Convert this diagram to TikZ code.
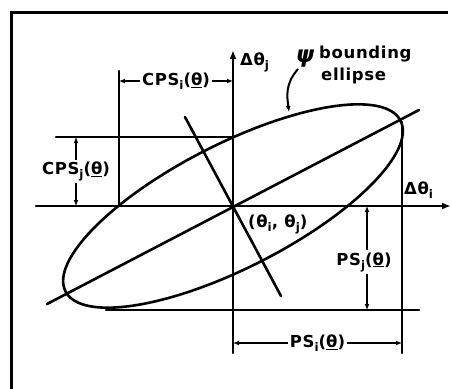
\documentclass[tikz,border=0pt]{standalone}
\usepackage{fontspec}
\setmainfont[LetterSpace=4]{DejaVu Sans}
\usetikzlibrary{arrows.meta}
\newcommand\lo[1]{\raisebox{-0.45ex}{\scalebox{0.72}{#1}}}
\newcommand\uth{\underline{θ}}
\begin{document}
\begin{tikzpicture}[x=1pt,y=-1pt,
  thick line/.style={line width=2.6pt,line cap=round},
  frameline/.style={line width=3pt},
  dimline/.style={line width=2pt,{Latex[length=6pt,width=5pt]}-{Latex[length=6pt,width=5pt]}},
  lbl/.style={font=\fontsize{16.5}{18}\selectfont\bfseries,inner sep=1pt},
  dimlbl/.style={lbl,fill=white,inner sep=2pt}]
\useasboundingbox (0,0) rectangle (451,389);
% frame
\draw[frameline] (11,389) -- (11,12) -- (448,12);
% key points
\coordinate (O) at (233,206);
\coordinate (xl) at (36,206);
\coordinate (xr) at (451,206);
\coordinate (yb) at (233,353);
\coordinate (yt) at (233,50);
% axes
\draw[thick line,-{Latex[length=9pt,width=7pt]}] (xl) -- (xr);
\draw[thick line,-{Latex[length=9pt,width=7pt]}] (yb) -- (yt);
% ellipse
\draw[thick line,rotate around={27:(O)}] (O) ellipse [x radius=188,y radius=62];
% major and minor axes
\coordinate (ma1) at (47,304);
\coordinate (ma2) at (419,110);
\coordinate (mi1) at (185,117);
\coordinate (mi2) at (281,296);
\draw[thick line] (ma1) -- (ma2);
\draw[thick line] (mi1) -- (mi2);
% extension lines
\coordinate (t1) at (56,137);
\coordinate (t2) at (233,137);
\coordinate (v1) at (119,71);
\coordinate (v2) at (119,206);
\coordinate (r1) at (402,122);
\coordinate (r2) at (402,353);
\coordinate (b1) at (106,310);
\coordinate (b2) at (419,310);
\draw[thick line] (t1) -- (t2);
\draw[thick line] (v1) -- (v2);
\draw[thick line] (r1) -- (r2);
\draw[thick line] (b1) -- (b2);
% dimension lines
\coordinate (ci1) at (119,81);
\coordinate (ci2) at (233,81);
\draw[dimline] (ci1) -- node[dimlbl] (cpsi) {CPS\lo{i}(\uth)} (ci2);
\coordinate (cj1) at (76,137);
\coordinate (cj2) at (76,206);
\draw[dimline] (cj1) -- node[dimlbl] (cpsj) {CPS\lo{j}(\uth)} (cj2);
\coordinate (pj1) at (367,206);
\coordinate (pj2) at (367,310);
\draw[dimline] (pj1) -- node[dimlbl,xshift=-3pt,yshift=-4pt] (psj) {PS\lo{j}(\uth)} (pj2);
\coordinate (pi1) at (233,343);
\coordinate (pi2) at (402,343);
\draw[dimline] (pi1) -- node[dimlbl] (psi) {PS\lo{i}(\uth)} (pi2);
% axis labels
\node[lbl,anchor=west] (dtj) at (239,62) {Δθ\lo{j}};
\node[lbl,anchor=west] (dti) at (403,190) {Δθ\lo{i}};
\node[lbl,anchor=west] (cen) at (247,224) {(θ\lo{i}, θ\lo{j})};
% psi bounding ellipse
\node[lbl,anchor=center,font=\fontsize{23}{24}\selectfont\bfseries\itshape] (psy) at (305,59) {ψ};
\node[lbl,anchor=west] (bnd) at (318,54) {bounding};
\node[lbl,anchor=west] (ell) at (320,76) {ellipse};
\coordinate (pt) at (289,112);
\draw[line width=2pt,-{Latex[length=6pt,width=5pt]}] (298,69) .. controls (285,84) and (287,96) .. (pt);
\end{tikzpicture}
\end{document}
